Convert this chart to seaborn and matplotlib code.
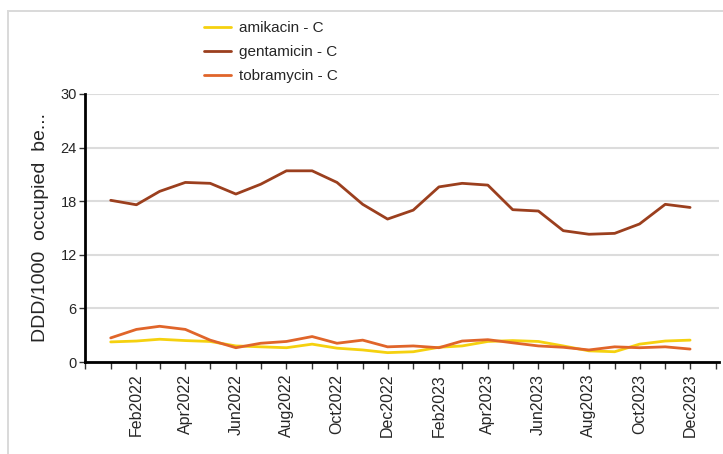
import numpy as np
import pandas as pd
import matplotlib
matplotlib.use("Agg")
import matplotlib.pyplot as plt
import matplotlib.dates as mdates
import seaborn as sns

# monthly values, Jan 2022 - Dec 2023
months = pd.date_range("2022-01-01", "2023-12-01", freq="MS")
amikacin = [2.25, 2.35, 2.55, 2.4, 2.3, 1.8, 1.7, 1.6, 2.0, 1.55, 1.35, 1.05,
            1.15, 1.65, 1.8, 2.3, 2.4, 2.3, 1.8, 1.25, 1.15, 2.0, 2.35, 2.45]
gentamicin = [18.1, 17.6, 19.1, 20.1, 20.0, 18.8, 19.9, 21.4, 21.4, 20.1, 17.65, 16.0,
              17.0, 19.6, 20.0, 19.8, 17.05, 16.9, 14.7, 14.3, 14.4, 15.45, 17.65, 17.3]
tobramycin = [2.7, 3.65, 4.0, 3.65, 2.45, 1.6, 2.1, 2.3, 2.85, 2.1, 2.45, 1.7,
              1.8, 1.6, 2.35, 2.5, 2.15, 1.8, 1.65, 1.35, 1.7, 1.6, 1.7, 1.45]
series_names = ["amikacin - C", "gentamicin - C", "tobramycin - C"]
colors = ["#F5D10F", "#9B3F1E", "#E0652A"]

df = pd.DataFrame({"month": months,
                   series_names[0]: amikacin,
                   series_names[1]: gentamicin,
                   series_names[2]: tobramycin})
long = df.melt(id_vars="month", var_name="drug", value_name="ddd")

sns.set_style("white")
plt.rcParams["font.family"] = ["Liberation Sans", "DejaVu Sans"]

fig = plt.figure(figsize=(7.23, 4.54), dpi=100)
ax = fig.add_axes([0.1176, 0.2026, 0.8770, 0.5904])

# light frame around the whole chart (right and bottom run off the picture)
fig.patches.append(plt.Rectangle((0.011, -0.2), 1.5, 1.175, transform=fig.transFigure,
                                 fill=False, edgecolor="#d9d9d9", linewidth=1.4))

sns.lineplot(data=long, x="month", y="ddd", hue="drug", palette=colors,
             linewidth=2, ax=ax)

ax.set_ylim(0, 30)
ax.set_yticks([0, 6, 12, 18, 24, 30])
ax.set_xlim(pd.Timestamp("2021-12-01"), pd.Timestamp("2024-01-05"))
ax.set_xticks(months[1::2])
ax.xaxis.set_major_formatter(mdates.DateFormatter("%b%Y"))
ax.xaxis.set_minor_locator(mdates.MonthLocator())
ax.tick_params(axis="x", which="both", length=5, width=1, color="#333333",
               direction="out", bottom=True, labelsize=11.5, labelrotation=90)
ax.tick_params(axis="y", length=4, width=1, color="#333333", direction="out",
               left=True, labelsize=10.5, pad=2)
ax.yaxis.grid(True, color="#dcdcdc", linewidth=1.5)
ax.set_axisbelow(True)
for side in ["top", "right"]:
    ax.spines[side].set_visible(False)
for side in ["left", "bottom"]:
    ax.spines[side].set_color("black")
    ax.spines[side].set_linewidth(2)
ax.set_xlabel("")
ax.set_ylabel("DDD/1000  occupied  be...", fontsize=14, labelpad=8)

handles, labels = ax.get_legend_handles_labels()
ax.legend(handles, labels, loc="lower left", bbox_to_anchor=(0.17, 1.0),
          frameon=False, fontsize=11, handlelength=1.8, labelspacing=0.65,
          handletextpad=0.5, borderaxespad=0.3)

fig.savefig("out.png", dpi=100)
